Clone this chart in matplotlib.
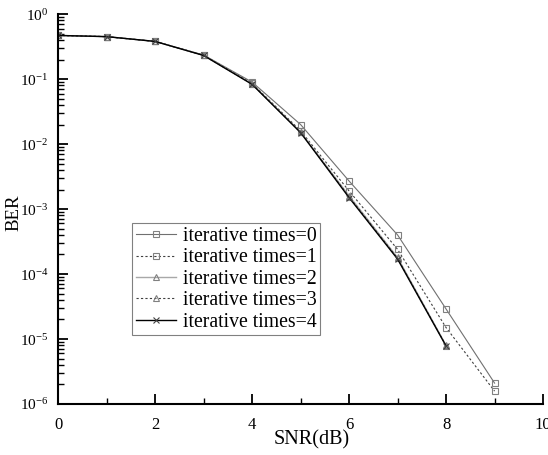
import numpy as np
import matplotlib
matplotlib.use('Agg')
import matplotlib.pyplot as plt
from matplotlib.ticker import LogLocator, MultipleLocator, NullFormatter

plt.rcParams['font.family'] = ['Liberation Serif', 'DejaVu Serif']
plt.rcParams['mathtext.fontset'] = 'stix'

snr_long = [0, 1, 2, 3, 4, 5, 6, 7, 8, 9]
snr_short = [0, 1, 2, 3, 4, 5, 6, 7, 8]

ber_0 = [0.47, 0.45, 0.38, 0.235, 0.090, 0.0200, 2.7e-3, 4.0e-4, 2.9e-5, 2.1e-6]
ber_1 = [0.47, 0.45, 0.38, 0.233, 0.086, 0.0160, 1.9e-3, 2.4e-4, 1.5e-5, 1.58e-6]
ber_2 = [0.47, 0.45, 0.38, 0.232, 0.084, 0.0153, 1.6e-3, 1.8e-4, 8.0e-6]
ber_3 = [0.47, 0.45, 0.38, 0.232, 0.084, 0.0152, 1.55e-3, 1.75e-4, 7.9e-6]
ber_4 = [0.47, 0.45, 0.38, 0.231, 0.083, 0.0150, 1.5e-3, 1.7e-4, 7.8e-6]

labels = ['iterative times=0', 'iterative times=1', 'iterative times=2',
          'iterative times=3', 'iterative times=4']

fig = plt.figure(figsize=(5.48, 4.55), dpi=100)
ax = fig.add_axes([0.106, 0.112, 0.885, 0.857])

mk = dict(markersize=5, markerfacecolor='none', markeredgewidth=0.8)
ax.plot(snr_long, ber_0, color='#707070', ls='-', lw=0.8, marker='s',
        markeredgecolor='#808080', label=labels[0], **mk)
ax.plot(snr_long, ber_1, color='#404040', ls=(0, (2, 2)), lw=0.8, marker='s',
        markeredgecolor='#808080', label=labels[1], **mk)
ax.plot(snr_short, ber_2, color='#a8a8a8', ls='-', lw=1.0, marker='^',
        markeredgecolor='#808080', label=labels[2], **mk)
ax.plot(snr_short, ber_3, color='#404040', ls=(0, (2, 2)), lw=0.8, marker='^',
        markeredgecolor='#808080', label=labels[3], **mk)
ax.plot(snr_short, ber_4, color='black', ls='-', lw=1.0, marker='x',
        markeredgecolor='#404040', label=labels[4], **mk)

ax.set_yscale('log')
ax.set_xlim(0, 10)
ax.set_ylim(1e-6, 1)
ax.xaxis.set_major_locator(MultipleLocator(2))
ax.xaxis.set_minor_locator(MultipleLocator(1))
ax.yaxis.set_major_locator(LogLocator(base=10, numticks=10))
ax.yaxis.set_minor_locator(LogLocator(base=10, subs=np.arange(2, 10), numticks=10))
ax.yaxis.set_minor_formatter(NullFormatter())

for s in ['top', 'right']:
    ax.spines[s].set_visible(False)
for s in ['left', 'bottom']:
    ax.spines[s].set_linewidth(1.5)

ax.tick_params(which='major', direction='in', length=7, width=1.3, labelsize=12)
ax.tick_params(axis='y', labelsize=11)
ax.tick_params(which='minor', direction='in', length=4, width=1.0)
ax.tick_params(axis='x', pad=9)
ax.tick_params(axis='y', pad=7)

ax.set_xlabel('SNR(dB)', fontsize=14.5)
ax.xaxis.set_label_coords(0.522, -0.067)
ax.set_ylabel('BER', fontsize=13.5)
ax.yaxis.set_label_coords(-0.074, 0.49)

leg = ax.legend(loc='upper left', bbox_to_anchor=(0.153, 0.464),
                borderaxespad=0, fontsize=14.2, fancybox=False,
                handlelength=2.0, handletextpad=0.35, labelspacing=0.12,
                borderpad=0.2, frameon=True)
leg.get_frame().set_edgecolor('#606060')
leg.get_frame().set_linewidth(0.8)

fig.savefig('out.png', dpi=100)
